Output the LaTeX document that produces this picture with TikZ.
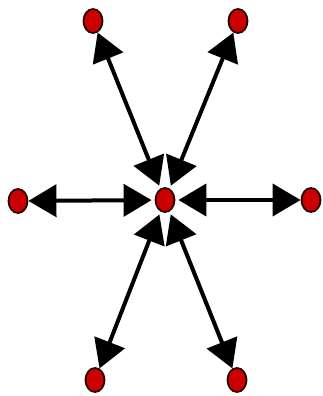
\documentclass[tikz,border=0pt]{standalone}
\usepackage{tikz}
\usetikzlibrary{arrows.meta,shapes.geometric}

\begin{document}
\begin{tikzpicture}[
		x=1pt, y=1pt,
		dot/.style={
			draw=black!85!red,
			fill=red!80!black,
			ellipse,
			line width=1.8pt,
			minimum width=19pt,
			minimum height=24pt,
			inner sep=0pt
		},
		spoke/.style={
			arrows={Triangle[length=28pt,width=32pt]-Triangle[length=28pt,width=32pt]},
			line width=4pt,
			shorten <=3pt
		}
		]
		
		\useasboundingbox (0,0) rectangle (323,-396);
		
		% ---- Centre ----
		\node[dot] (c) at (165,-200) {};
		
		% ---- Outer dots ----
		\node[dot] (tl) at (93,-21) {};
		\node[dot] (tr) at (238,-21) {};
		\node[dot] (l) at (18,-201) {};
		\node[dot] (r) at (311,-200) {};
		\node[dot] (bl) at (95,-380) {};
		\node[dot] (br) at (237,-380) {};
		
		% ---- Spokes ----
		\draw[spoke] (c) -- (tl);
		\draw[spoke] (c) -- (tr);
		\draw[spoke] (c) -- (l);
		\draw[spoke] (c) -- (r);
		\draw[spoke] (c) -- (bl);
		\draw[spoke] (c) -- (br);
		
	\end{tikzpicture}
\end{document}
